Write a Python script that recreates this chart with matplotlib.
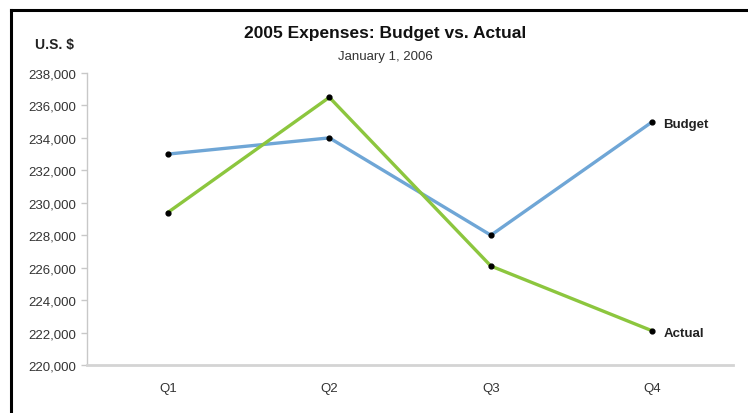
import matplotlib.pyplot as plt
from matplotlib.ticker import FuncFormatter
from matplotlib.lines import Line2D

plt.rcParams["font.family"] = ["Liberation Sans", "DejaVu Sans"]

quarters = ["Q1", "Q2", "Q3", "Q4"]
budget = [233000, 234000, 228000, 235000]
actual = [229400, 236500, 226100, 222100]

fig = plt.figure(figsize=(7.48, 4.14), dpi=100)
ax = fig.add_axes([0.1163, 0.1159, 0.864, 0.7054])

x = range(len(quarters))
ax.plot(x, budget, color="#6fa6d6", lw=2.4, solid_capstyle="round", zorder=2)
ax.plot(x, actual, color="#8cc63e", lw=2.4, solid_capstyle="round", zorder=3)
ax.scatter(x, budget, s=12, color="black", zorder=4)
ax.scatter(x, actual, s=12, color="black", zorder=4)

# end-of-line series labels
ax.annotate("Budget", (3, budget[-1]), xytext=(8, -1.5), textcoords="offset points",
            va="center", ha="left", fontsize=9.5, fontweight="bold", color="#222222")
ax.annotate("Actual", (3, actual[-1]), xytext=(8, -1.5), textcoords="offset points",
            va="center", ha="left", fontsize=9.5, fontweight="bold", color="#222222")

ax.set_xlim(-0.5, 3.5)
ax.set_ylim(220000, 238000)
ax.set_yticks(range(220000, 238001, 2000))
ax.yaxis.set_major_formatter(FuncFormatter(lambda v, p: f"{int(v):,}"))
ax.set_xticks(list(x))
ax.set_xticklabels(quarters)

for s in ["top", "right"]:
    ax.spines[s].set_visible(False)
ax.spines["left"].set_color("#c8c8c8")
ax.spines["left"].set_linewidth(1.0)
ax.spines["bottom"].set_color("#d4d4d4")
ax.spines["bottom"].set_linewidth(2.0)
ax.tick_params(axis="y", length=4, width=1, color="#c8c8c8", labelsize=9.5,
               labelcolor="#333333", pad=4)
ax.tick_params(axis="x", length=0, labelsize=9.5, labelcolor="#333333", pad=12)

fig.text(0.515, 0.918, "2005 Expenses: Budget vs. Actual", ha="center", va="center",
         fontsize=12.5, fontweight="bold", color="#111111")
fig.text(0.515, 0.862, "January 1, 2006", ha="center", va="center",
         fontsize=9.5, color="#333333")
fig.text(0.047, 0.891, "U.S. $", ha="left", va="center", fontsize=10,
         fontweight="bold", color="#222222")

# frame along top and left edges
fig.add_artist(Line2D([0.0147, 1.0], [0.973, 0.973], transform=fig.transFigure,
                      color="black", lw=2.2))
fig.add_artist(Line2D([0.0147, 0.0147], [0.0, 0.973], transform=fig.transFigure,
                      color="black", lw=2.2))

fig.savefig("out.png", dpi=100)
